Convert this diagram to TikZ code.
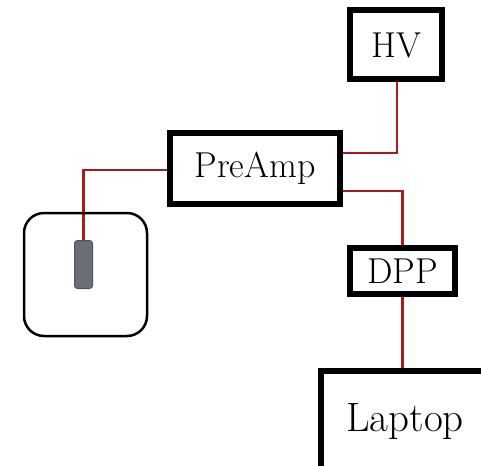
\documentclass[tikz,border=0pt]{standalone}
\usetikzlibrary{backgrounds}
\definecolor{wire}{HTML}{A81C1C}
\definecolor{chipfill}{HTML}{6A6E76}
\definecolor{chipdraw}{HTML}{50545A}
\begin{document}
\begin{tikzpicture}[x=1pt,y=-1pt,
  box/.style={draw=black,line width=6pt,fill=white,inner sep=0pt,font=\fontsize{36}{42}\selectfont},
  wireline/.style={draw=wire,line width=2.5pt}]
\clip (0,0) rectangle (481,465);
\node[box,minimum width=91.5pt,minimum height=69pt] (hv) at (396,45) {HV};
\node[box,minimum width=170pt,minimum height=71pt] (pre) at (255,168.5) {PreAmp};
\node[box,minimum width=105pt,minimum height=46pt] (dpp) at (402.5,271) {DPP};
\node[box,minimum width=168pt,minimum height=100pt,font=\fontsize{41}{48}\selectfont] (lap) at (405,421) {Laptop};
\node[draw=black,line width=2.5pt,rounded corners=20pt,minimum width=123pt,minimum height=123pt,inner sep=0pt] (det) at (85.5,274.5) {};
\node[draw=chipdraw,fill=chipfill,line width=1pt,rounded corners=3pt,minimum width=18pt,minimum height=48pt,inner sep=0pt] (chip) at (83.5,264.5) {};
\begin{pgfonlayer}{background}
\fill[white] (0,0) rectangle (481,465);
\draw[wireline] ([yshift=-1.5pt]pre.west) -| (chip.north);
\draw[wireline] ([yshift=15.5pt]pre.east) -| ([xshift=1pt]hv.south);
\draw[wireline] ([yshift=-22.5pt]pre.east) -| (dpp.north);
\draw[wireline] (dpp.south) -- (dpp.south |- lap.north);
\end{pgfonlayer}
\end{tikzpicture}
\end{document}
